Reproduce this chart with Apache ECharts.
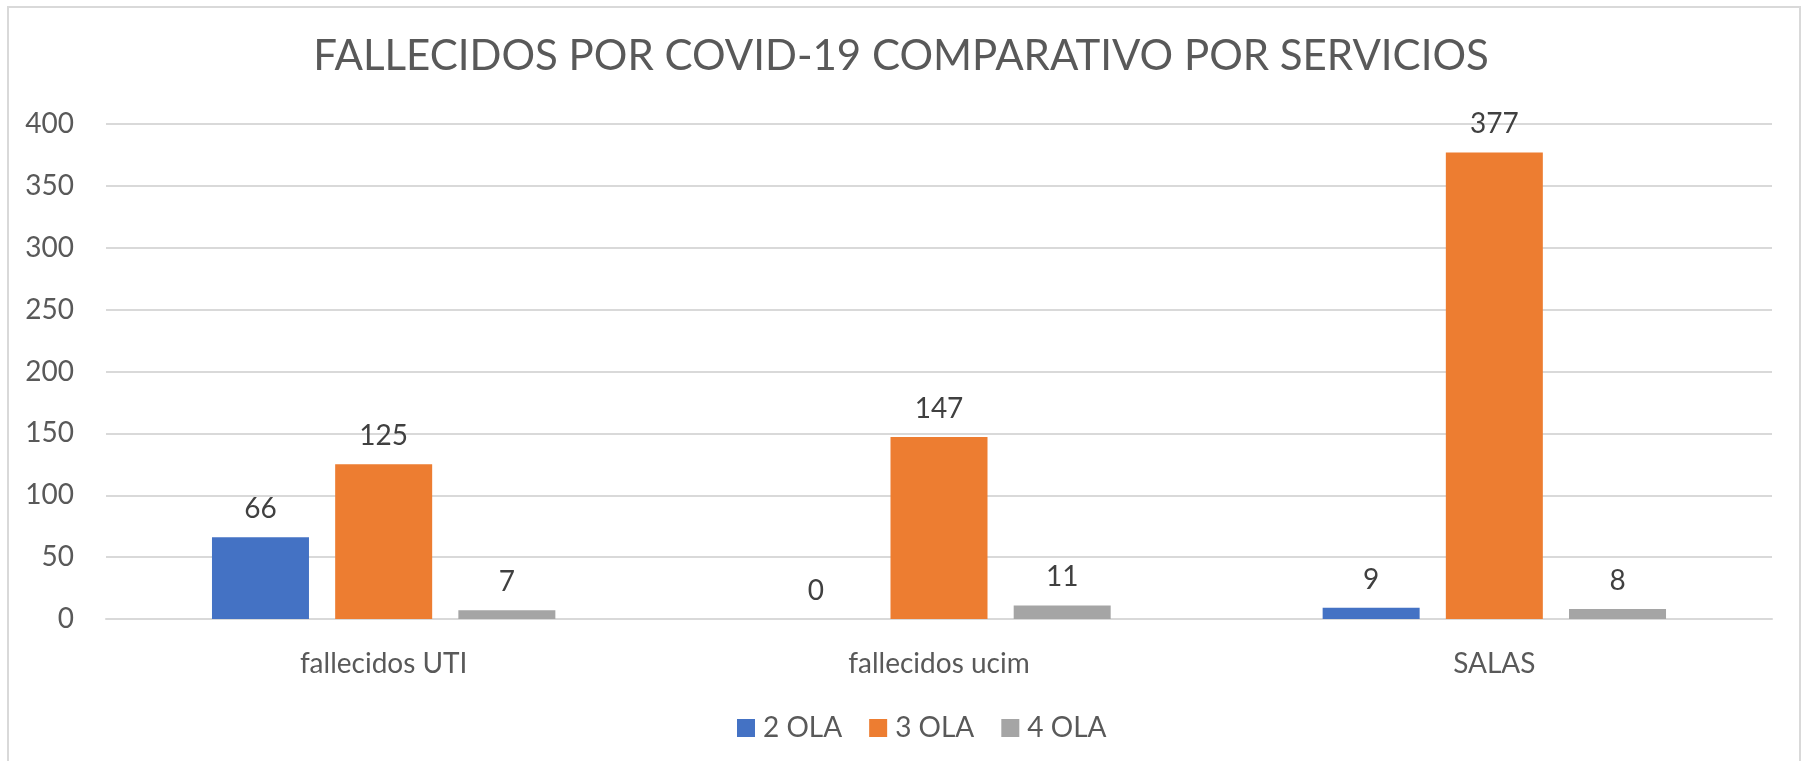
<!DOCTYPE html>
<html>
<head>
<meta charset="utf-8">
<script src="https://cdn.jsdelivr.net/npm/echarts@6/dist/echarts.min.js"></script>
<style>
  html, body { margin: 0; padding: 0; background: #fff; }
  #chart { width: 1802px; height: 761px; }
</style>
</head>
<body>
<div id="chart"></div>
<script>
const categories = ['fallecidos UTI', 'fallecidos ucim', 'SALAS'];
const ola2 = [66, 0, 9];
const ola3 = [125, 147, 377];
const ola4 = [7, 11, 8];
const seriesNames = ['2 OLA', '3 OLA', '4 OLA'];
const colors = ['#4472C4', '#ED7D31', '#A5A5A5'];
const titleText = 'FALLECIDOS POR COVID-19 COMPARATIVO POR SERVICIOS';

const FONT = 'Lato';
const TEXT = '#595959';

const chart = echarts.init(document.getElementById('chart'));

const makeSeries = (name, data, color) => ({
  name: name,
  type: 'bar',
  data: data,
  barWidth: 97,
  barGap: '27%',
  itemStyle: { color: color },
  label: {
    show: true,
    position: 'top',
    distance: 14,
    color: '#404040',
    fontFamily: FONT,
    fontSize: 28
  }
});

const option = {
  animation: false,
  color: colors,
  title: {
    text: titleText,
    left: 'center',
    top: 30,
    textStyle: {
      color: TEXT,
      fontFamily: FONT,
      fontWeight: 'normal',
      fontSize: 42
    }
  },
  legend: {
    data: seriesNames,
    left: 732,
    top: 709,
    itemWidth: 18,
    itemHeight: 18,
    itemGap: 27,
    icon: 'rect',
    textStyle: { color: TEXT, fontFamily: FONT, fontSize: 28, padding: [0, 0, 0, 3] }
  },
  grid: {
    left: 106,
    right: 30,
    top: 124,
    bottom: 142
  },
  xAxis: {
    type: 'category',
    data: categories,
    axisTick: { show: false },
    axisLine: { lineStyle: { color: '#D9D9D9', width: 2 } },
    axisLabel: { color: TEXT, fontFamily: FONT, fontSize: 28, margin: 31 }
  },
  yAxis: {
    type: 'value',
    min: 0,
    max: 400,
    interval: 50,
    axisLine: { show: false },
    axisTick: { show: false },
    splitLine: { lineStyle: { color: '#D9D9D9', width: 2 } },
    axisLabel: { color: TEXT, fontFamily: FONT, fontSize: 28, margin: 32 }
  },
  graphic: [{
    type: 'rect',
    shape: { x: 8, y: 7, width: 1792, height: 800 },
    style: { fill: 'none', stroke: '#D9D9D9', lineWidth: 2 },
    silent: true,
    z: -1
  }],
  series: [
    makeSeries(seriesNames[0], ola2, colors[0]),
    makeSeries(seriesNames[1], ola3, colors[1]),
    makeSeries(seriesNames[2], ola4, colors[2])
  ]
};

chart.setOption(option);
window.addEventListener('resize', () => chart.resize());
</script>
</body>
</html>
